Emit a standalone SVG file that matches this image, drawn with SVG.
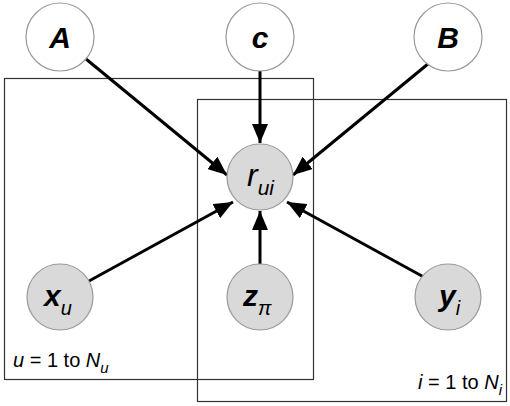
<svg xmlns="http://www.w3.org/2000/svg" width="510" height="406" viewBox="0 0 510 406">
<style>
.plate{fill:none;stroke:#333;stroke-width:1.2}
.hid{fill:#fff;stroke:#999;stroke-width:1.2}
.obs{fill:#d9d9d9;stroke:#999;stroke-width:1.2}
.lbl{font-family:"Liberation Sans",Arial,sans-serif;font-style:italic;font-weight:bold;font-size:30px;fill:#000}
.sub{font-weight:normal;font-size:20px}
.rl{font-family:"Liberation Sans",Arial,sans-serif;font-style:italic;font-size:32px;fill:#000}
.pl{font-family:"Liberation Sans",Arial,sans-serif;font-size:20px;fill:#000}
.edge{stroke:#000;stroke-width:3;fill:none;marker-end:url(#ah)}
</style>
<defs>
<marker id="ah" markerUnits="userSpaceOnUse" markerWidth="20" markerHeight="16" refX="19" refY="8" orient="auto">
<path d="M0,0 L19,8 L0,16 Z" fill="#000"/>
</marker>
</defs>
<g id="plate-u"><rect class="plate" x="4.5" y="78.5" width="309" height="301"/>
<text class="pl" x="13" y="367"><tspan font-style="italic">u</tspan> = 1 to <tspan font-style="italic">N</tspan><tspan font-style="italic" font-size="15" dy="6">u</tspan></text></g>
<g id="plate-i"><rect class="plate" x="197.5" y="99.5" width="309" height="302"/>
<text class="pl" x="502" y="389" text-anchor="end"><tspan font-style="italic">i</tspan> = 1 to <tspan font-style="italic">N</tspan><tspan font-style="italic" font-size="15" dy="6">i</tspan></text></g>
<g id="connectors">
<line class="edge" x1="86" y1="59" x2="227" y2="175"/>
<line class="edge" x1="260" y1="71" x2="260" y2="143"/>
<line class="edge" x1="434" y1="59" x2="293" y2="175"/>
<line class="edge" x1="89" y1="281" x2="233" y2="202"/>
<line class="edge" x1="260" y1="264" x2="260" y2="211"/>
<line class="edge" x1="431" y1="281" x2="287" y2="202"/>
</g>
<g id="A"><circle class="hid" cx="60" cy="37" r="34"/><text class="lbl" x="60" y="48" text-anchor="middle">A</text></g>
<g id="c"><circle class="hid" cx="260" cy="37" r="34"/><text class="lbl" x="260" y="48" text-anchor="middle">c</text></g>
<g id="B"><circle class="hid" cx="448" cy="37" r="34"/><text class="lbl" x="448" y="48" text-anchor="middle">B</text></g>
<g id="r_ui"><circle class="obs" cx="260" cy="177" r="33"/><text class="rl" x="247" y="186">r<tspan font-size="21" dy="9">ui</tspan></text></g>
<g id="x_u"><circle class="obs" cx="60" cy="297" r="33"/><text class="lbl" x="44" y="306">x<tspan class="sub" dy="9">u</tspan></text></g>
<g id="z_pi"><circle class="obs" cx="260" cy="297" r="33"/><text class="lbl" x="243" y="306">z<tspan class="sub" dy="9">π</tspan></text></g>
<g id="y_i"><circle class="obs" cx="448" cy="297" r="33"/><text class="lbl" x="439" y="306">y<tspan class="sub" dy="9">i</tspan></text></g>
</svg>
